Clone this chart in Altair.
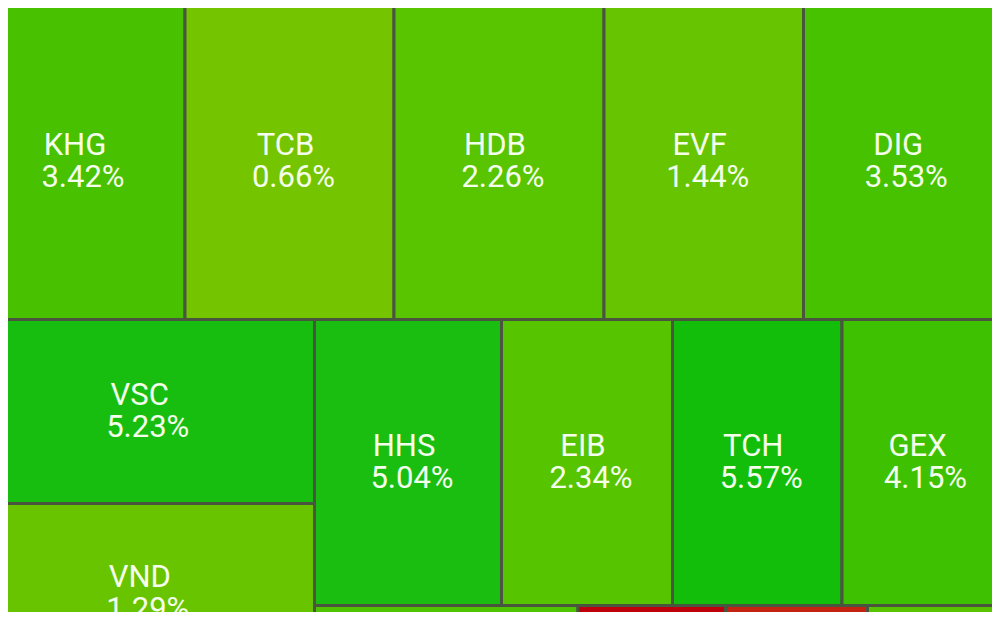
import altair as alt
import pandas as pd

# Treemap cells (ticker, % change) and their layout edges in the view's coordinate space
tickers = ["", "", "", "", "",
           "KHG", "TCB", "HDB", "EVF", "DIG",
           "VSC", "VND",
           "HHS", "EIB", "TCH", "GEX",
           "", "", "", ""]
changes = [3.6, -1.0, 0.3, 3.8, 0.5,
           3.42, 0.66, 2.26, 1.44, 3.53,
           5.23, 1.29,
           5.04, 2.34, 5.57, 4.15,
           3.0, -3.0, -2.2, 2.3]
x0 = [-27, 214, 446, 650, 828,
      -27, 185, 394, 604, 803.5,
      -27, -27,
      314.5, 501.5, 672.5, 842,
      314.5, 578, 725.5, 867.5]
x1 = [214, 446, 650, 828, 1001,
      185, 394, 604, 803.5, 1001,
      314.5, 314.5,
      501.5, 672.5, 842, 1001,
      578, 725.5, 867.5, 1001]
y0 = [-60, -60, -60, -60, -60,
      4.5, 4.5, 4.5, 4.5, 4.5,
      319.5, 503.5,
      319.5, 319.5, 319.5, 319.5,
      605.5, 605.5, 605.5, 605.5]
y1 = [4.5, 4.5, 4.5, 4.5, 4.5,
      319.5, 319.5, 319.5, 319.5, 319.5,
      503.5, 684,
      605.5, 605.5, 605.5, 605.5,
      690, 690, 690, 690]

color_domain = [-3, -1, 0, 0.66, 2.3, 4.15, 5.0, 5.6]
color_range = ["#bd000c", "#d4561c", "#a0c800", "#74c400", "#58c400",
               "#3ec100", "#1bbe12", "#12be0a"]

df = pd.DataFrame({"ticker": tickers, "change": changes,
                   "x0": x0, "x1": x1, "y0": y0, "y1": y1})

BORDER = "#4a5540"
TEXT = "#f4ffec"
FONT_SIZE = 31

xs = alt.Scale(domain=[8, 992], nice=False, zero=False)
ys = alt.Scale(domain=[612, 8], nice=False, zero=False)

base = alt.Chart(df)

cells = base.mark_rect(stroke=BORDER, strokeWidth=3, clip=True).encode(
    x=alt.X("x0:Q", scale=xs, axis=None),
    x2="x1:Q",
    y=alt.Y("y0:Q", scale=ys, axis=None),
    y2="y1:Q",
    color=alt.Color("change:Q", legend=None,
                    scale=alt.Scale(domain=color_domain, range=color_range,
                                    interpolate="rgb")),
)

labels = base.transform_filter("datum.ticker != ''").transform_calculate(
    cx="(datum.x0 + datum.x1) / 2",
    cy="(datum.y0 + datum.y1) / 2",
    pct="format(datum.change, '.2f') + '%'",
)

names = labels.mark_text(font="Roboto", fontSize=FONT_SIZE, color=TEXT,
                         baseline="middle", align="center", dx=-4, dy=-16,
                         clip=True).encode(
    x=alt.X("cx:Q", scale=xs, axis=None),
    y=alt.Y("cy:Q", scale=ys, axis=None),
    text="ticker:N",
)

pcts = labels.mark_text(font="Roboto", fontSize=FONT_SIZE, color=TEXT,
                        baseline="middle", align="center", dx=4, dy=16,
                        clip=True).encode(
    x=alt.X("cx:Q", scale=xs, axis=None),
    y=alt.Y("cy:Q", scale=ys, axis=None),
    text="pct:N",
)

chart = alt.layer(cells, names, pcts).properties(
    width=984, height=604, padding=0, autosize="none",
    background=BORDER,
).configure_view(stroke=None)

chart.save("out.html", embed_options={"renderer": "svg", "actions": False})
